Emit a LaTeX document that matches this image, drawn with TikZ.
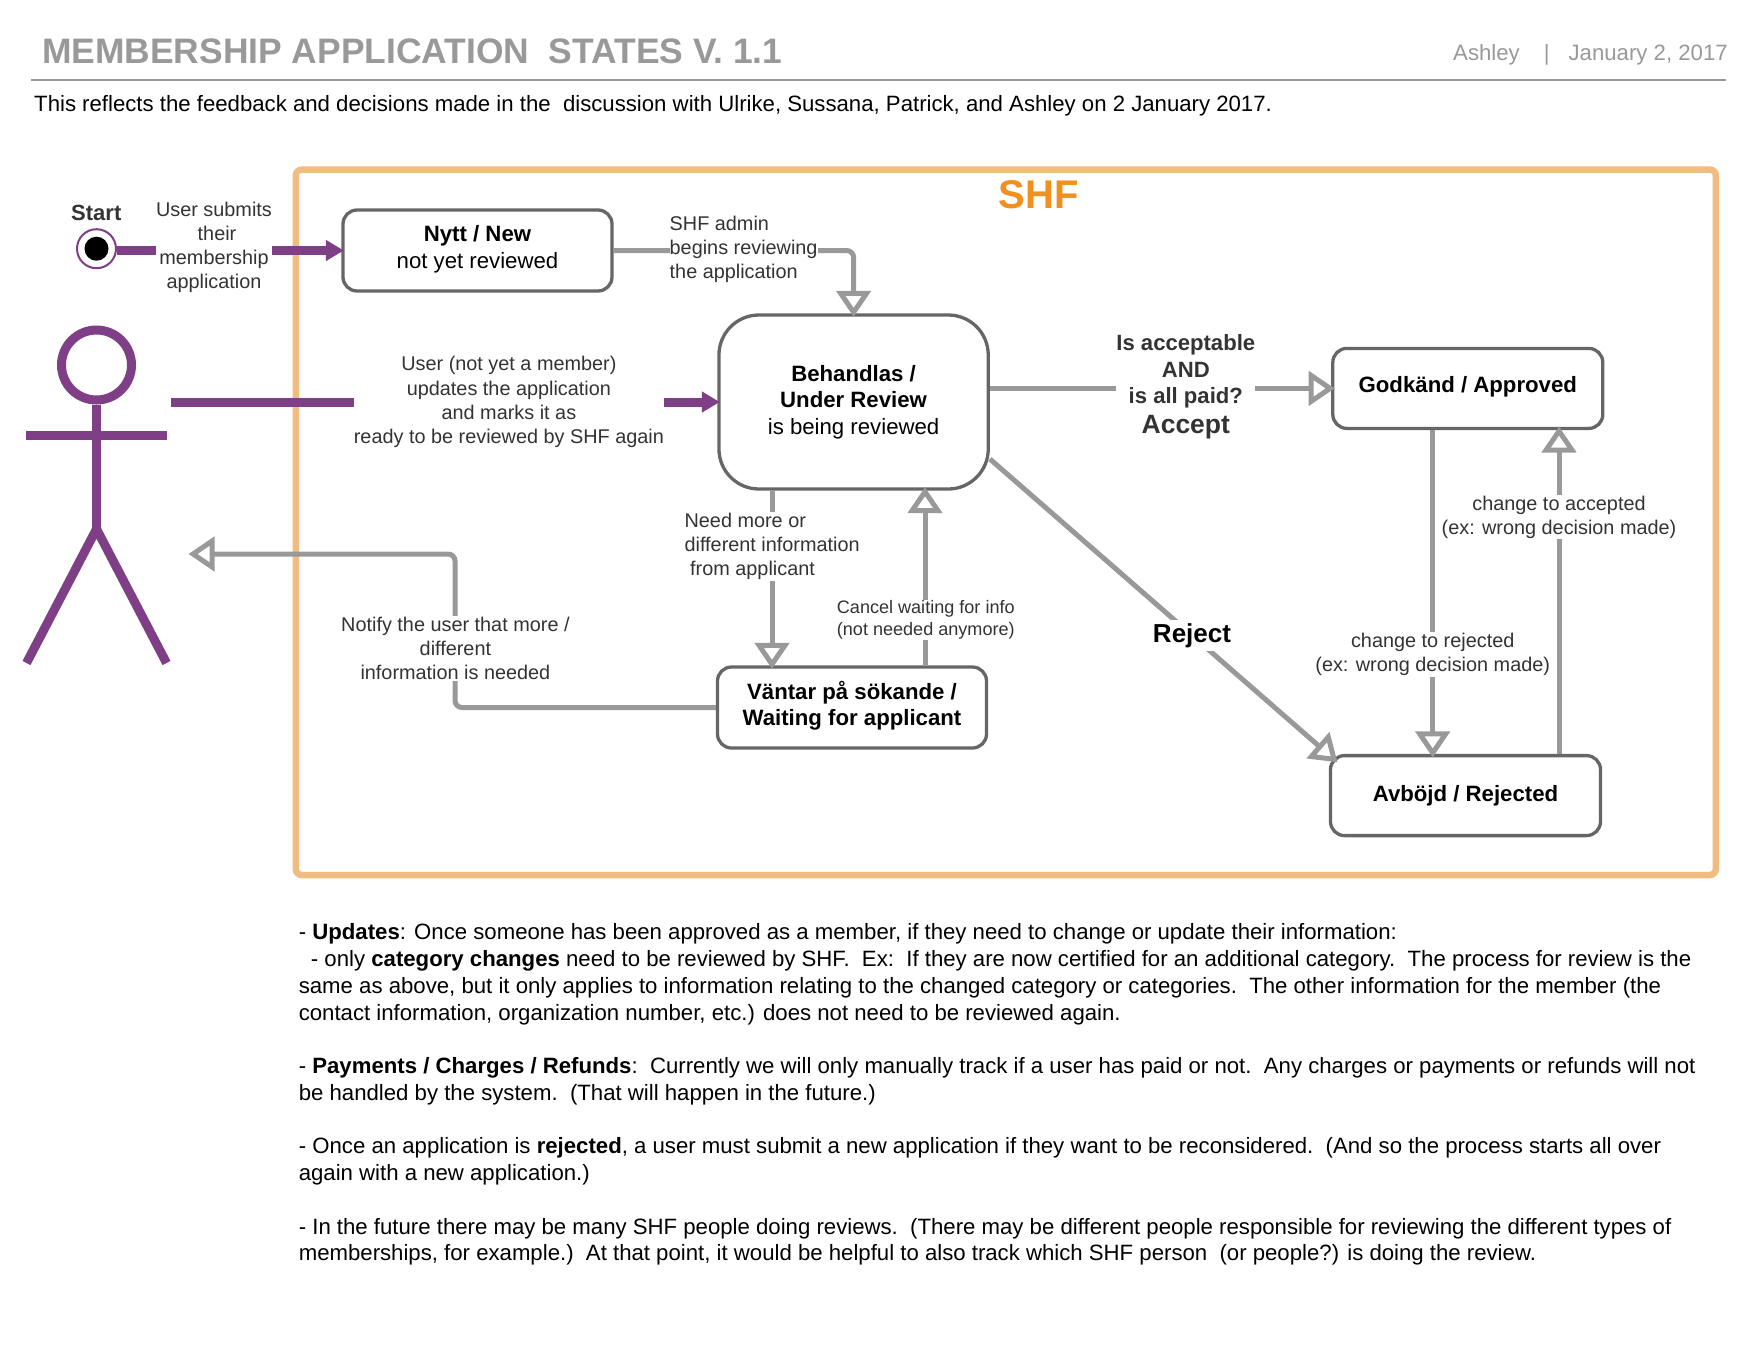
\documentclass[tikz,border=0pt]{standalone}
\usepackage{fontspec}
\setmainfont{Liberation Sans}
\usetikzlibrary{arrows.meta,calc}
\definecolor{purp}{HTML}{7F3F87}
\definecolor{frameor}{HTML}{F0BC82}
\definecolor{shfor}{HTML}{F0901E}
\definecolor{conn}{HTML}{999999}
\definecolor{boxline}{HTML}{666666}
\definecolor{txt}{HTML}{333333}
\newcommand{\liftbox}[1]{\rule[-#1]{0pt}{0pt}}
\tikzset{
  statebox/.style={draw=boxline,line width=3.3pt,fill=white,rounded corners=#1,inner sep=0pt,align=center,text=black,font=\fontsize{22.2}{26.5}\selectfont},
  statebox/.default=14pt,
  lbl/.style={fill=white,inner xsep=0pt,inner ysep=1pt,align=center,text=txt,font=\fontsize{19.85}{24.1}\selectfont},
  smalllbl/.style={lbl,align=left,font=\fontsize{18.07}{21.5}\selectfont},
  boldlbl/.style={lbl,font=\bfseries\fontsize{22.1}{26.4}\selectfont},
  flow/.style={draw=conn,line width=5pt,rounded corners=7pt,shorten >=-3.5pt,-{Triangle[length=26pt,width=34pt,fill=white]}},
  uflow/.style={draw=purp,line width=9pt,shorten >=-2.5pt,-{Triangle[length=18pt,width=20pt,fill=purp]}},
  stick/.style={draw=purp,line width=9pt},
  plain/.style={inner sep=0pt},
}
\begin{document}
\begin{tikzpicture}[x=1pt,y=-1pt]
\fill[white] (0,0) rectangle (1760,1360);
\useasboundingbox (0,0) rectangle (1760,1360);

% header
\node[plain,anchor=base west,text=conn,font=\bfseries\fontsize{35.4}{40}\selectfont] (title) at (42,63.4) {MEMBERSHIP APPLICATION\ \ STATES V. 1.1};
\node[plain,anchor=base east,text=conn,font=\fontsize{22.2}{26}\selectfont] (meta) at (1728,60.4) {Ashley\hspace{24pt}|\hspace{19pt}January 2, 2017};
\coordinate (ruleL) at (31,80);
\coordinate (ruleR) at (1725.7,80);
\draw[conn,line width=2pt] (ruleL) -- (ruleR);
\node[plain,anchor=base west,text=black,font=\fontsize{22.18}{27}\selectfont] (sub) at (34,111.7) {This reflects the feedback and decisions made in the\ \ discussion with Ulrike, Sussana, Patrick, and Ashley on 2 January 2017.};

% frame
\node[draw=frameor,line width=6.5pt,rounded corners=6pt,minimum width=1420pt,minimum height=705.4pt,inner sep=0pt] (shf) at (1005.8,522.3) {};
\node[plain,text=shfor,font=\bfseries\fontsize{40}{44}\selectfont] (shft) at (1038.7,195) {SHF};

% state boxes
\node[statebox,minimum width=269pt,minimum height=81pt] (nytt) at (477.5,250.5) {\textbf{Nytt / New}\\not yet reviewed\liftbox{7pt}};
\node[statebox=40pt,minimum width=269.3pt,minimum height=174pt] (beh) at (853.6,402) {\textbf{Behandlas /}\\\textbf{Under Review}\\is being reviewed};
\node[statebox,minimum width=270pt,minimum height=80pt] (god) at (1467.8,388.4) {\textbf{Godkänd / Approved}\liftbox{7pt}};
\node[statebox,minimum width=270pt,minimum height=80pt] (avb) at (1465.5,795.6) {\textbf{Avböjd / Rejected}};
\node[statebox,minimum width=269pt,minimum height=81pt] (vant) at (852,707.5) {\textbf{Väntar på sökande /}\\\textbf{Waiting for applicant}\liftbox{8pt}};

% start
\node[circle,draw=purp,line width=2pt,fill=white,minimum size=39pt,inner sep=0pt] (start) at (96.5,248.7) {};
\node[circle,fill=black,minimum size=24pt,inner sep=0pt] (startdot) at (start.center) {};
\node[plain,text=txt,font=\bfseries\fontsize{22}{26}\selectfont] (startt) at (96.3,213) {Start};

% actor
\node[circle,draw=purp,line width=9pt,minimum size=70pt,inner sep=0pt] (head) at (96.5,365) {};
\coordinate (hip) at (96.5,529);
\coordinate (armL) at (26,435);
\coordinate (armR) at (167,435);
\coordinate (footL) at (26.5,663);
\coordinate (footR) at (166.5,663);
\draw[stick] (head.south) -- (hip);
\draw[stick] (armL) -- (armR);
\draw[stick,line join=miter] (footL) -- (hip) -- (footR);

% free ends
\coordinate (userOut) at (171,402);
\coordinate (userIn) at (192,554);
\coordinate (notifyBend) at (455,554);
\coordinate (notifyLow) at (455,707.5);

% connectors
\draw[uflow] (start.east |- nytt.west) -- (nytt.west);
\draw[uflow] (userOut) -- (beh.west);
\draw[flow] (nytt.east) -| (beh.north);
\draw[flow] (beh.east |- god.west) -- (god.west);
\draw[flow] ([xshift=-81.6pt]beh.south) -- ([xshift=-80pt]vant.north);
\draw[flow] ([xshift=73pt]vant.north) -- ([xshift=71.4pt]beh.south);
\draw[flow] (vant.west) -- (notifyLow) -- (notifyBend) -- (userIn);
\draw[flow] ($(beh.east)+(0,57)$) -- ($(avb.north west)+(6,6)$);
\draw[flow] ([xshift=-35.1pt]god.south) -- ([xshift=-32.8pt]avb.north);
\draw[flow] ([xshift=93.5pt]avb.north) -- ([xshift=91.2pt]god.south);

% labels
\node[lbl] (l1) at (214,247.7) {User submits\\\hspace*{6pt}their\\membership\\application};
\node[lbl,align=left,anchor=west] (l2) at (669.5,249.7) {SHF admin\\begins reviewing\\the application};
\node[lbl] (l3) at (508.9,402) {User (not yet a member)\\updates the application\\and marks it as\\ready to be reviewed by SHF again};
\node[lbl,align=left,anchor=west] (l4) at (684.4,546.2) {Need more or\\different information\\\hspace*{5.6pt}from applicant};
\node[smalllbl,anchor=west] (l5) at (836.7,620) {Cancel waiting for info\\(not needed anymore)};
\node[lbl] (l6) at (455.4,648.6) {Notify the user that more /\\different\\information is needed};
\node[boldlbl] (l7) at (1185.8,387) {Is acceptable\\AND\\is all paid?\\[3.5pt]{\fontsize{26.5}{30}\selectfont Accept}};
\node[lbl,text=black,inner ysep=3pt,font=\bfseries\fontsize{26}{30}\selectfont] (l8) at (1192,635.5) {Reject};
\node[lbl] (l9) at (1432.7,654.3) {change to rejected\\(ex: wrong decision made)};
\node[lbl] (l10) at (1559,517) {change to accepted\\(ex: wrong decision made)};

% notes
\node[plain,anchor=north west,align=left,text=black,font=\fontsize{22.18}{26.75}\selectfont] (notes) at (298.6,923.5) {%
- \textbf{Updates}: Once someone has been approved as a member, if they need to change or update their information:\\
\hspace*{6pt} - only \textbf{category changes} need to be reviewed by SHF.\ \ Ex:\ \ If they are now certified for an additional category.\ \ The process for review is the\\
same as above, but it only applies to information relating to the changed category or categories.\ \ The other information for the member (the\\
contact information, organization number, etc.) does not need to be reviewed again.\\
\mbox{}\\
- \textbf{Payments / Charges / Refunds}:\ \ Currently we will only manually track if a user has paid or not.\ \ Any charges or payments or refunds will not\\
be handled by the system.\ \ (That will happen in the future.)\\
\mbox{}\\
- Once an application is \textbf{rejected}, a user must submit a new application if they want to be reconsidered.\ \ (And so the process starts all over\\
again with a new application.)\\
\mbox{}\\
- In the future there may be many SHF people doing reviews.\ \ (There may be different people responsible for reviewing the different types of\\
memberships, for example.)\ \ At that point, it would be helpful to also track which SHF person\ \ (or people?) is doing the review.};
\end{tikzpicture}
\end{document}
